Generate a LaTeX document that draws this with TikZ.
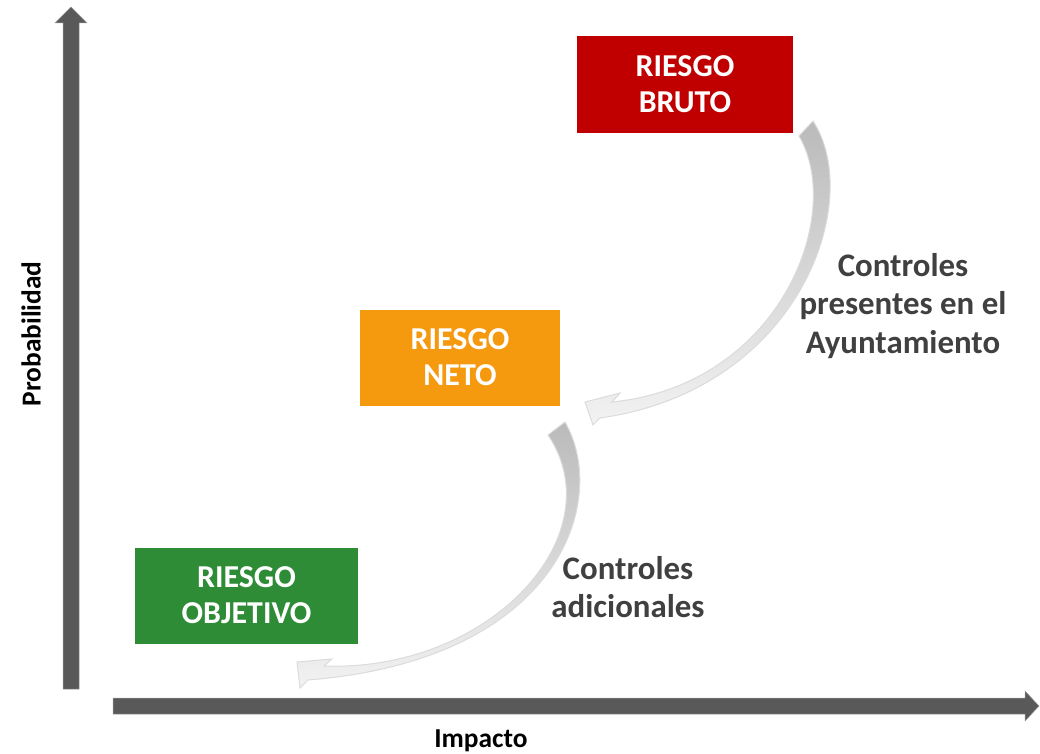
\documentclass[tikz,border=0pt]{standalone}
\usepackage{fontspec}
\setmainfont{Carlito}
\definecolor{axisgray}{HTML}{595959}
\definecolor{labelgray}{HTML}{404040}
\definecolor{brutored}{HTML}{C00000}
\definecolor{netoorange}{HTML}{F5990F}
\definecolor{objgreen}{HTML}{2E8C36}
\tikzset{
  riskbox/.style={minimum width=#1, minimum height=96bp, inner sep=0pt, text=white,
    font=\bfseries\fontsize{32}{36}\selectfont, align=center},
  sidelabel/.style={text=labelgray, font=\bfseries\fontsize{33}{38.5}\selectfont, align=center, inner sep=0pt},
  axislabel/.style={text=black, font=\bfseries\fontsize{27.5}{30}\selectfont, inner sep=0pt},
  axisfill/.style={fill=axisgray, draw=black!40, line width=0.5bp},
  arrowfill/.style={top color=black!27, bottom color=black!5, draw=black!14, line width=1bp, line join=miter}
}
\begin{document}
\begin{tikzpicture}[x=1bp,y=-1bp]
\useasboundingbox (0,0) rectangle (1040,754);
% axes
\path[axisfill] (63,689) -- (63,23) -- (55,23) -- (71,7) -- (87,23) -- (79,23) -- (79,689) -- cycle;
\path[axisfill] (113,698) -- (1025,698) -- (1025,691) -- (1039,706) -- (1025,721) -- (1025,714) -- (113,714) -- cycle;
% boxes
\node[riskbox=216bp, fill=brutored] (bruto) at (685,84.5) {RIESGO\\BRUTO};
\node[riskbox=200bp, fill=netoorange] (neto) at (460,357.5) {RIESGO\\NETO};
\node[riskbox=223bp, fill=objgreen] (objetivo) at (246.5,595.5) {RIESGO\\OBJETIVO};
% curved arrows
\path[arrowfill] (813,121) .. controls (865,200) and (800,390) .. (600,418) -- (593,425) -- (585,402) -- (620,393) -- (612,402) .. controls (780,385) and (845,215) .. (799,136) -- cycle;
\path[arrowfill] (565,422) .. controls (610,500) and (560,660) .. (308,680) -- (300,688) -- (297,662) -- (332,659) -- (324,666) .. controls (490,672) and (615,535) .. (548,435) -- cycle;
% labels
\node[sidelabel] (ctrl1) at (903,306) {Controles\\presentes en el\\Ayuntamiento};
\node[sidelabel] (ctrl2) at (628,587) {Controles\\adicionales};
\node[axislabel, rotate=90] (prob) at (31,334) {Probabilidad};
\node[axislabel] (imp) at (481,741) {Impacto};
\end{tikzpicture}
\end{document}
